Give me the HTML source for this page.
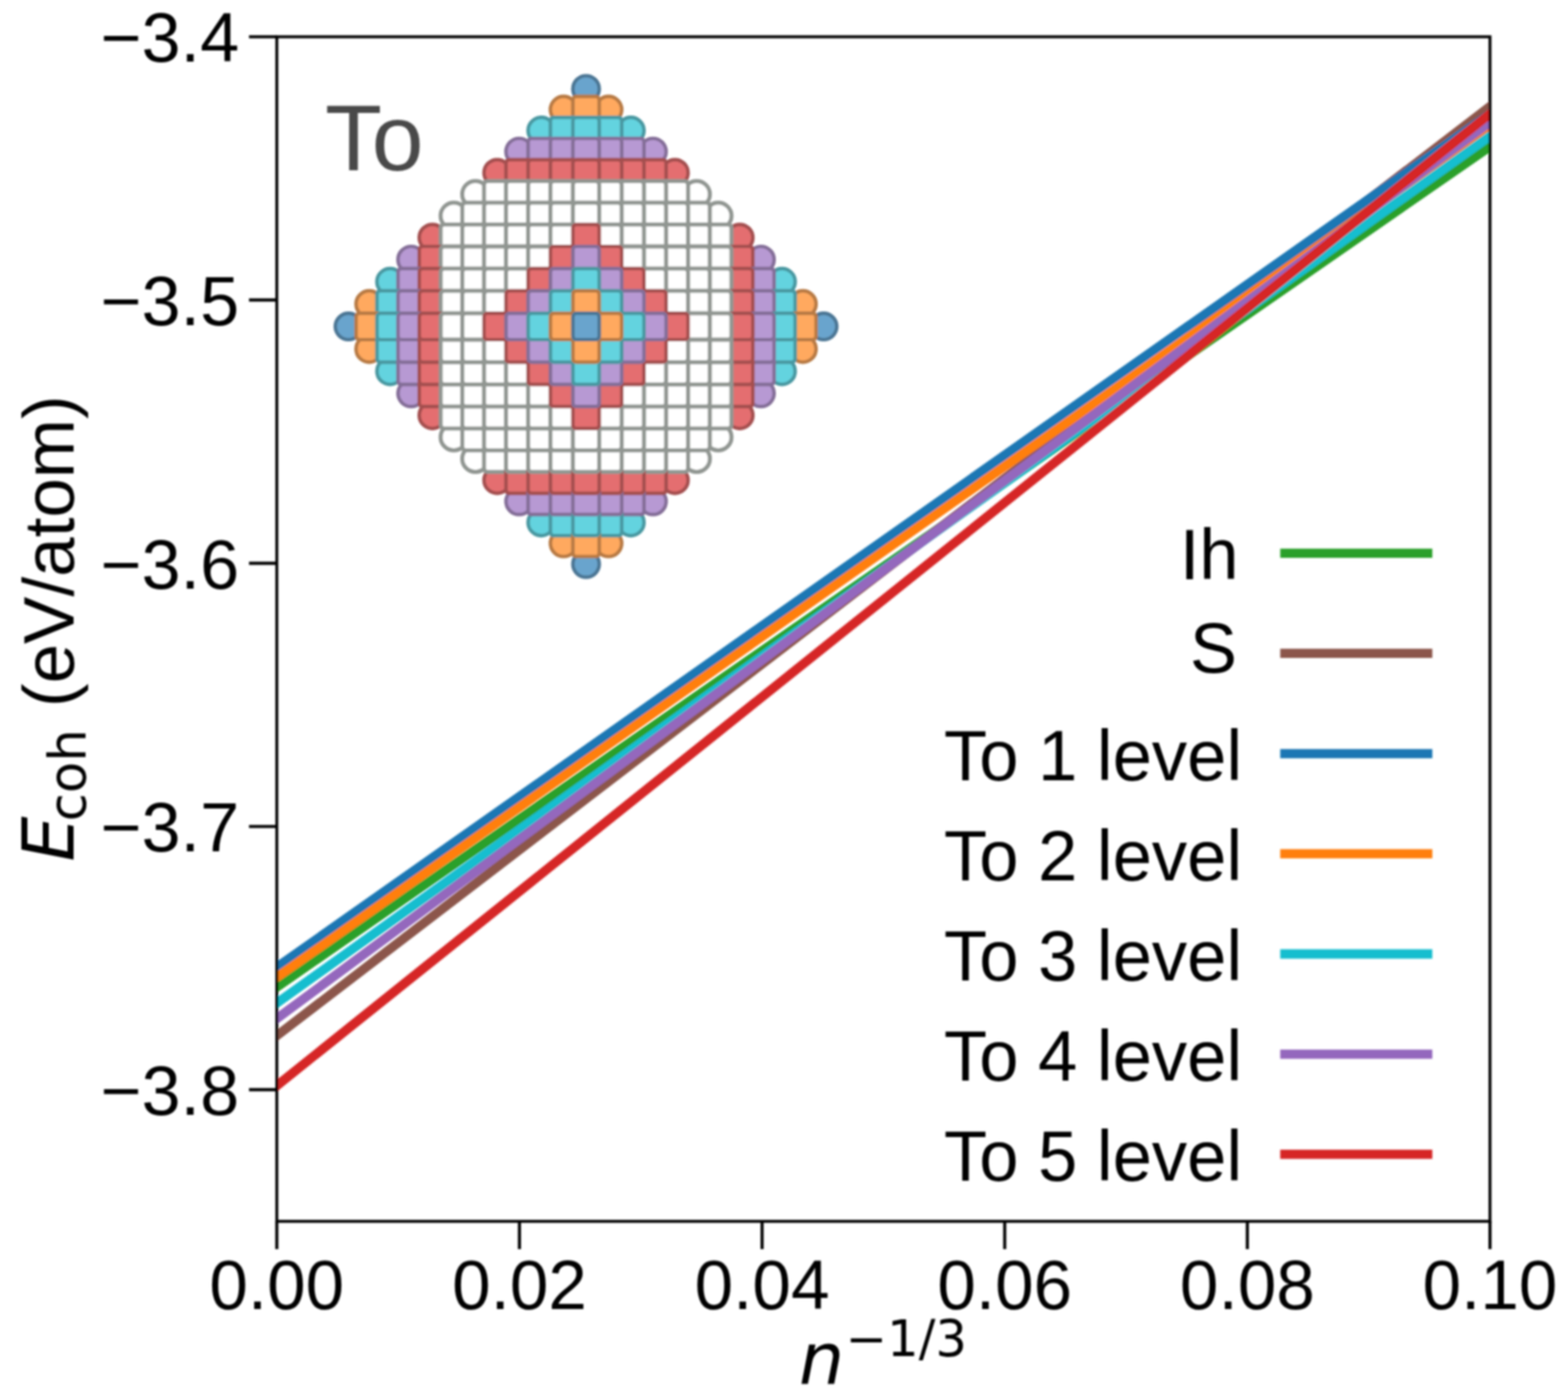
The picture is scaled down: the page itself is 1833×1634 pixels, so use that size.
<!DOCTYPE html>
<html><head><meta charset="utf-8"><title>plot</title>
<style>html,body{margin:0;padding:0;background:#fff;}svg{display:block;}</style>
</head><body>
<svg width="1833" height="1634" viewBox="0 0 1833 1634">
<rect width="100%" height="100%" fill="#ffffff"/>
<defs><clipPath id="ax"><rect x="323.6" y="43.0" width="1418.1999999999998" height="1384.5"/></clipPath><filter id="soft" x="0" y="0" width="100%" height="100%" filterUnits="userSpaceOnUse"><feGaussianBlur stdDeviation="0.9"/></filter></defs>
<g filter="url(#soft)">
<g stroke-width="4.2">
<rect x="669.70" y="88.50" width="30.80" height="30.80" rx="15.4" fill="#69a4cd" stroke="#4c7694"/>
<rect x="643.42" y="112.71" width="30.80" height="30.80" rx="15.4" fill="#ffa95e" stroke="#b87a44"/>
<rect x="695.98" y="112.71" width="30.80" height="30.80" rx="15.4" fill="#ffa95e" stroke="#b87a44"/>
<rect x="617.35" y="137.13" width="30.80" height="30.80" rx="15.4" fill="#64d3df" stroke="#4898a1"/>
<rect x="722.05" y="137.13" width="30.80" height="30.80" rx="15.4" fill="#64d3df" stroke="#4898a1"/>
<rect x="591.49" y="161.76" width="30.80" height="30.80" rx="15.4" fill="#b799d3" stroke="#846e98"/>
<rect x="747.91" y="161.76" width="30.80" height="30.80" rx="15.4" fill="#b799d3" stroke="#846e98"/>
<rect x="565.83" y="186.59" width="30.80" height="30.80" rx="15.4" fill="#e46e6f" stroke="#a44f50"/>
<rect x="773.57" y="186.59" width="30.80" height="30.80" rx="15.4" fill="#e46e6f" stroke="#a44f50"/>
<rect x="540.38" y="211.63" width="30.80" height="30.80" rx="15.4" fill="#ffffff" stroke="#919692" stroke-width="4.8"/>
<rect x="799.02" y="211.63" width="30.80" height="30.80" rx="15.4" fill="#ffffff" stroke="#919692" stroke-width="4.8"/>
<rect x="515.13" y="236.88" width="30.80" height="30.80" rx="15.4" fill="#ffffff" stroke="#919692" stroke-width="4.8"/>
<rect x="824.27" y="236.88" width="30.80" height="30.80" rx="15.4" fill="#ffffff" stroke="#919692" stroke-width="4.8"/>
<rect x="490.09" y="262.33" width="30.80" height="30.80" rx="15.4" fill="#e46e6f" stroke="#a44f50"/>
<rect x="849.31" y="262.33" width="30.80" height="30.80" rx="15.4" fill="#e46e6f" stroke="#a44f50"/>
<rect x="465.26" y="287.99" width="30.80" height="30.80" rx="15.4" fill="#b799d3" stroke="#846e98"/>
<rect x="874.14" y="287.99" width="30.80" height="30.80" rx="15.4" fill="#b799d3" stroke="#846e98"/>
<rect x="440.63" y="313.85" width="30.80" height="30.80" rx="15.4" fill="#64d3df" stroke="#4898a1"/>
<rect x="898.77" y="313.85" width="30.80" height="30.80" rx="15.4" fill="#64d3df" stroke="#4898a1"/>
<rect x="416.21" y="339.92" width="30.80" height="30.80" rx="15.4" fill="#ffa95e" stroke="#b87a44"/>
<rect x="923.19" y="339.92" width="30.80" height="30.80" rx="15.4" fill="#ffa95e" stroke="#b87a44"/>
<rect x="392.00" y="366.20" width="30.80" height="30.80" rx="15.4" fill="#69a4cd" stroke="#4c7694"/>
<rect x="947.40" y="366.20" width="30.80" height="30.80" rx="15.4" fill="#69a4cd" stroke="#4c7694"/>
<rect x="416.21" y="392.48" width="30.80" height="30.80" rx="15.4" fill="#ffa95e" stroke="#b87a44"/>
<rect x="923.19" y="392.48" width="30.80" height="30.80" rx="15.4" fill="#ffa95e" stroke="#b87a44"/>
<rect x="440.63" y="418.55" width="30.80" height="30.80" rx="15.4" fill="#64d3df" stroke="#4898a1"/>
<rect x="898.77" y="418.55" width="30.80" height="30.80" rx="15.4" fill="#64d3df" stroke="#4898a1"/>
<rect x="465.26" y="444.41" width="30.80" height="30.80" rx="15.4" fill="#b799d3" stroke="#846e98"/>
<rect x="874.14" y="444.41" width="30.80" height="30.80" rx="15.4" fill="#b799d3" stroke="#846e98"/>
<rect x="490.09" y="470.07" width="30.80" height="30.80" rx="15.4" fill="#e46e6f" stroke="#a44f50"/>
<rect x="849.31" y="470.07" width="30.80" height="30.80" rx="15.4" fill="#e46e6f" stroke="#a44f50"/>
<rect x="515.13" y="495.52" width="30.80" height="30.80" rx="15.4" fill="#ffffff" stroke="#919692" stroke-width="4.8"/>
<rect x="824.27" y="495.52" width="30.80" height="30.80" rx="15.4" fill="#ffffff" stroke="#919692" stroke-width="4.8"/>
<rect x="540.38" y="520.77" width="30.80" height="30.80" rx="15.4" fill="#ffffff" stroke="#919692" stroke-width="4.8"/>
<rect x="799.02" y="520.77" width="30.80" height="30.80" rx="15.4" fill="#ffffff" stroke="#919692" stroke-width="4.8"/>
<rect x="565.83" y="545.81" width="30.80" height="30.80" rx="15.4" fill="#e46e6f" stroke="#a44f50"/>
<rect x="773.57" y="545.81" width="30.80" height="30.80" rx="15.4" fill="#e46e6f" stroke="#a44f50"/>
<rect x="591.49" y="570.64" width="30.80" height="30.80" rx="15.4" fill="#b799d3" stroke="#846e98"/>
<rect x="747.91" y="570.64" width="30.80" height="30.80" rx="15.4" fill="#b799d3" stroke="#846e98"/>
<rect x="617.35" y="595.27" width="30.80" height="30.80" rx="15.4" fill="#64d3df" stroke="#4898a1"/>
<rect x="722.05" y="595.27" width="30.80" height="30.80" rx="15.4" fill="#64d3df" stroke="#4898a1"/>
<rect x="643.42" y="619.69" width="30.80" height="30.80" rx="15.4" fill="#ffa95e" stroke="#b87a44"/>
<rect x="695.98" y="619.69" width="30.80" height="30.80" rx="15.4" fill="#ffa95e" stroke="#b87a44"/>
<rect x="669.70" y="643.90" width="30.80" height="30.80" rx="15.4" fill="#69a4cd" stroke="#4c7694"/>
<rect x="669.70" y="112.71" width="30.80" height="30.80" rx="4.0" fill="#ffa95e" stroke="#b87a44"/>
<rect x="643.42" y="137.13" width="30.80" height="30.80" rx="4.0" fill="#64d3df" stroke="#4898a1"/>
<rect x="695.98" y="137.13" width="30.80" height="30.80" rx="4.0" fill="#64d3df" stroke="#4898a1"/>
<rect x="617.35" y="161.76" width="30.80" height="30.80" rx="4.0" fill="#b799d3" stroke="#846e98"/>
<rect x="722.05" y="161.76" width="30.80" height="30.80" rx="4.0" fill="#b799d3" stroke="#846e98"/>
<rect x="591.49" y="186.59" width="30.80" height="30.80" rx="4.0" fill="#e46e6f" stroke="#a44f50"/>
<rect x="747.91" y="186.59" width="30.80" height="30.80" rx="4.0" fill="#e46e6f" stroke="#a44f50"/>
<rect x="565.83" y="211.63" width="30.80" height="30.80" rx="4.0" fill="#ffffff" stroke="#919692" stroke-width="4.8"/>
<rect x="773.57" y="211.63" width="30.80" height="30.80" rx="4.0" fill="#ffffff" stroke="#919692" stroke-width="4.8"/>
<rect x="540.38" y="236.88" width="30.80" height="30.80" rx="4.0" fill="#ffffff" stroke="#919692" stroke-width="4.8"/>
<rect x="799.02" y="236.88" width="30.80" height="30.80" rx="4.0" fill="#ffffff" stroke="#919692" stroke-width="4.8"/>
<rect x="515.13" y="262.33" width="30.80" height="30.80" rx="4.0" fill="#ffffff" stroke="#919692" stroke-width="4.8"/>
<rect x="824.27" y="262.33" width="30.80" height="30.80" rx="4.0" fill="#ffffff" stroke="#919692" stroke-width="4.8"/>
<rect x="490.09" y="287.99" width="30.80" height="30.80" rx="4.0" fill="#e46e6f" stroke="#a44f50"/>
<rect x="849.31" y="287.99" width="30.80" height="30.80" rx="4.0" fill="#e46e6f" stroke="#a44f50"/>
<rect x="465.26" y="313.85" width="30.80" height="30.80" rx="4.0" fill="#b799d3" stroke="#846e98"/>
<rect x="874.14" y="313.85" width="30.80" height="30.80" rx="4.0" fill="#b799d3" stroke="#846e98"/>
<rect x="440.63" y="339.92" width="30.80" height="30.80" rx="4.0" fill="#64d3df" stroke="#4898a1"/>
<rect x="898.77" y="339.92" width="30.80" height="30.80" rx="4.0" fill="#64d3df" stroke="#4898a1"/>
<rect x="416.21" y="366.20" width="30.80" height="30.80" rx="4.0" fill="#ffa95e" stroke="#b87a44"/>
<rect x="923.19" y="366.20" width="30.80" height="30.80" rx="4.0" fill="#ffa95e" stroke="#b87a44"/>
<rect x="440.63" y="392.48" width="30.80" height="30.80" rx="4.0" fill="#64d3df" stroke="#4898a1"/>
<rect x="898.77" y="392.48" width="30.80" height="30.80" rx="4.0" fill="#64d3df" stroke="#4898a1"/>
<rect x="465.26" y="418.55" width="30.80" height="30.80" rx="4.0" fill="#b799d3" stroke="#846e98"/>
<rect x="874.14" y="418.55" width="30.80" height="30.80" rx="4.0" fill="#b799d3" stroke="#846e98"/>
<rect x="490.09" y="444.41" width="30.80" height="30.80" rx="4.0" fill="#e46e6f" stroke="#a44f50"/>
<rect x="849.31" y="444.41" width="30.80" height="30.80" rx="4.0" fill="#e46e6f" stroke="#a44f50"/>
<rect x="515.13" y="470.07" width="30.80" height="30.80" rx="4.0" fill="#ffffff" stroke="#919692" stroke-width="4.8"/>
<rect x="824.27" y="470.07" width="30.80" height="30.80" rx="4.0" fill="#ffffff" stroke="#919692" stroke-width="4.8"/>
<rect x="540.38" y="495.52" width="30.80" height="30.80" rx="4.0" fill="#ffffff" stroke="#919692" stroke-width="4.8"/>
<rect x="799.02" y="495.52" width="30.80" height="30.80" rx="4.0" fill="#ffffff" stroke="#919692" stroke-width="4.8"/>
<rect x="565.83" y="520.77" width="30.80" height="30.80" rx="4.0" fill="#ffffff" stroke="#919692" stroke-width="4.8"/>
<rect x="773.57" y="520.77" width="30.80" height="30.80" rx="4.0" fill="#ffffff" stroke="#919692" stroke-width="4.8"/>
<rect x="591.49" y="545.81" width="30.80" height="30.80" rx="4.0" fill="#e46e6f" stroke="#a44f50"/>
<rect x="747.91" y="545.81" width="30.80" height="30.80" rx="4.0" fill="#e46e6f" stroke="#a44f50"/>
<rect x="617.35" y="570.64" width="30.80" height="30.80" rx="4.0" fill="#b799d3" stroke="#846e98"/>
<rect x="722.05" y="570.64" width="30.80" height="30.80" rx="4.0" fill="#b799d3" stroke="#846e98"/>
<rect x="643.42" y="595.27" width="30.80" height="30.80" rx="4.0" fill="#64d3df" stroke="#4898a1"/>
<rect x="695.98" y="595.27" width="30.80" height="30.80" rx="4.0" fill="#64d3df" stroke="#4898a1"/>
<rect x="669.70" y="619.69" width="30.80" height="30.80" rx="4.0" fill="#ffa95e" stroke="#b87a44"/>
<rect x="669.70" y="137.13" width="30.80" height="30.80" rx="4.0" fill="#64d3df" stroke="#4898a1"/>
<rect x="643.42" y="161.76" width="30.80" height="30.80" rx="4.0" fill="#b799d3" stroke="#846e98"/>
<rect x="695.98" y="161.76" width="30.80" height="30.80" rx="4.0" fill="#b799d3" stroke="#846e98"/>
<rect x="617.35" y="186.59" width="30.80" height="30.80" rx="4.0" fill="#e46e6f" stroke="#a44f50"/>
<rect x="722.05" y="186.59" width="30.80" height="30.80" rx="4.0" fill="#e46e6f" stroke="#a44f50"/>
<rect x="591.49" y="211.63" width="30.80" height="30.80" rx="4.0" fill="#ffffff" stroke="#919692" stroke-width="4.8"/>
<rect x="747.91" y="211.63" width="30.80" height="30.80" rx="4.0" fill="#ffffff" stroke="#919692" stroke-width="4.8"/>
<rect x="565.83" y="236.88" width="30.80" height="30.80" rx="4.0" fill="#ffffff" stroke="#919692" stroke-width="4.8"/>
<rect x="773.57" y="236.88" width="30.80" height="30.80" rx="4.0" fill="#ffffff" stroke="#919692" stroke-width="4.8"/>
<rect x="540.38" y="262.33" width="30.80" height="30.80" rx="4.0" fill="#ffffff" stroke="#919692" stroke-width="4.8"/>
<rect x="799.02" y="262.33" width="30.80" height="30.80" rx="4.0" fill="#ffffff" stroke="#919692" stroke-width="4.8"/>
<rect x="515.13" y="287.99" width="30.80" height="30.80" rx="4.0" fill="#ffffff" stroke="#919692" stroke-width="4.8"/>
<rect x="824.27" y="287.99" width="30.80" height="30.80" rx="4.0" fill="#ffffff" stroke="#919692" stroke-width="4.8"/>
<rect x="490.09" y="313.85" width="30.80" height="30.80" rx="4.0" fill="#e46e6f" stroke="#a44f50"/>
<rect x="849.31" y="313.85" width="30.80" height="30.80" rx="4.0" fill="#e46e6f" stroke="#a44f50"/>
<rect x="465.26" y="339.92" width="30.80" height="30.80" rx="4.0" fill="#b799d3" stroke="#846e98"/>
<rect x="874.14" y="339.92" width="30.80" height="30.80" rx="4.0" fill="#b799d3" stroke="#846e98"/>
<rect x="440.63" y="366.20" width="30.80" height="30.80" rx="4.0" fill="#64d3df" stroke="#4898a1"/>
<rect x="898.77" y="366.20" width="30.80" height="30.80" rx="4.0" fill="#64d3df" stroke="#4898a1"/>
<rect x="465.26" y="392.48" width="30.80" height="30.80" rx="4.0" fill="#b799d3" stroke="#846e98"/>
<rect x="874.14" y="392.48" width="30.80" height="30.80" rx="4.0" fill="#b799d3" stroke="#846e98"/>
<rect x="490.09" y="418.55" width="30.80" height="30.80" rx="4.0" fill="#e46e6f" stroke="#a44f50"/>
<rect x="849.31" y="418.55" width="30.80" height="30.80" rx="4.0" fill="#e46e6f" stroke="#a44f50"/>
<rect x="515.13" y="444.41" width="30.80" height="30.80" rx="4.0" fill="#ffffff" stroke="#919692" stroke-width="4.8"/>
<rect x="824.27" y="444.41" width="30.80" height="30.80" rx="4.0" fill="#ffffff" stroke="#919692" stroke-width="4.8"/>
<rect x="540.38" y="470.07" width="30.80" height="30.80" rx="4.0" fill="#ffffff" stroke="#919692" stroke-width="4.8"/>
<rect x="799.02" y="470.07" width="30.80" height="30.80" rx="4.0" fill="#ffffff" stroke="#919692" stroke-width="4.8"/>
<rect x="565.83" y="495.52" width="30.80" height="30.80" rx="4.0" fill="#ffffff" stroke="#919692" stroke-width="4.8"/>
<rect x="773.57" y="495.52" width="30.80" height="30.80" rx="4.0" fill="#ffffff" stroke="#919692" stroke-width="4.8"/>
<rect x="591.49" y="520.77" width="30.80" height="30.80" rx="4.0" fill="#ffffff" stroke="#919692" stroke-width="4.8"/>
<rect x="747.91" y="520.77" width="30.80" height="30.80" rx="4.0" fill="#ffffff" stroke="#919692" stroke-width="4.8"/>
<rect x="617.35" y="545.81" width="30.80" height="30.80" rx="4.0" fill="#e46e6f" stroke="#a44f50"/>
<rect x="722.05" y="545.81" width="30.80" height="30.80" rx="4.0" fill="#e46e6f" stroke="#a44f50"/>
<rect x="643.42" y="570.64" width="30.80" height="30.80" rx="4.0" fill="#b799d3" stroke="#846e98"/>
<rect x="695.98" y="570.64" width="30.80" height="30.80" rx="4.0" fill="#b799d3" stroke="#846e98"/>
<rect x="669.70" y="595.27" width="30.80" height="30.80" rx="4.0" fill="#64d3df" stroke="#4898a1"/>
<rect x="669.70" y="161.76" width="30.80" height="30.80" rx="4.0" fill="#b799d3" stroke="#846e98"/>
<rect x="643.42" y="186.59" width="30.80" height="30.80" rx="4.0" fill="#e46e6f" stroke="#a44f50"/>
<rect x="695.98" y="186.59" width="30.80" height="30.80" rx="4.0" fill="#e46e6f" stroke="#a44f50"/>
<rect x="617.35" y="211.63" width="30.80" height="30.80" rx="4.0" fill="#ffffff" stroke="#919692" stroke-width="4.8"/>
<rect x="722.05" y="211.63" width="30.80" height="30.80" rx="4.0" fill="#ffffff" stroke="#919692" stroke-width="4.8"/>
<rect x="591.49" y="236.88" width="30.80" height="30.80" rx="4.0" fill="#ffffff" stroke="#919692" stroke-width="4.8"/>
<rect x="747.91" y="236.88" width="30.80" height="30.80" rx="4.0" fill="#ffffff" stroke="#919692" stroke-width="4.8"/>
<rect x="565.83" y="262.33" width="30.80" height="30.80" rx="4.0" fill="#ffffff" stroke="#919692" stroke-width="4.8"/>
<rect x="773.57" y="262.33" width="30.80" height="30.80" rx="4.0" fill="#ffffff" stroke="#919692" stroke-width="4.8"/>
<rect x="540.38" y="287.99" width="30.80" height="30.80" rx="4.0" fill="#ffffff" stroke="#919692" stroke-width="4.8"/>
<rect x="799.02" y="287.99" width="30.80" height="30.80" rx="4.0" fill="#ffffff" stroke="#919692" stroke-width="4.8"/>
<rect x="515.13" y="313.85" width="30.80" height="30.80" rx="4.0" fill="#ffffff" stroke="#919692" stroke-width="4.8"/>
<rect x="824.27" y="313.85" width="30.80" height="30.80" rx="4.0" fill="#ffffff" stroke="#919692" stroke-width="4.8"/>
<rect x="490.09" y="339.92" width="30.80" height="30.80" rx="4.0" fill="#e46e6f" stroke="#a44f50"/>
<rect x="849.31" y="339.92" width="30.80" height="30.80" rx="4.0" fill="#e46e6f" stroke="#a44f50"/>
<rect x="465.26" y="366.20" width="30.80" height="30.80" rx="4.0" fill="#b799d3" stroke="#846e98"/>
<rect x="874.14" y="366.20" width="30.80" height="30.80" rx="4.0" fill="#b799d3" stroke="#846e98"/>
<rect x="490.09" y="392.48" width="30.80" height="30.80" rx="4.0" fill="#e46e6f" stroke="#a44f50"/>
<rect x="849.31" y="392.48" width="30.80" height="30.80" rx="4.0" fill="#e46e6f" stroke="#a44f50"/>
<rect x="515.13" y="418.55" width="30.80" height="30.80" rx="4.0" fill="#ffffff" stroke="#919692" stroke-width="4.8"/>
<rect x="824.27" y="418.55" width="30.80" height="30.80" rx="4.0" fill="#ffffff" stroke="#919692" stroke-width="4.8"/>
<rect x="540.38" y="444.41" width="30.80" height="30.80" rx="4.0" fill="#ffffff" stroke="#919692" stroke-width="4.8"/>
<rect x="799.02" y="444.41" width="30.80" height="30.80" rx="4.0" fill="#ffffff" stroke="#919692" stroke-width="4.8"/>
<rect x="565.83" y="470.07" width="30.80" height="30.80" rx="4.0" fill="#ffffff" stroke="#919692" stroke-width="4.8"/>
<rect x="773.57" y="470.07" width="30.80" height="30.80" rx="4.0" fill="#ffffff" stroke="#919692" stroke-width="4.8"/>
<rect x="591.49" y="495.52" width="30.80" height="30.80" rx="4.0" fill="#ffffff" stroke="#919692" stroke-width="4.8"/>
<rect x="747.91" y="495.52" width="30.80" height="30.80" rx="4.0" fill="#ffffff" stroke="#919692" stroke-width="4.8"/>
<rect x="617.35" y="520.77" width="30.80" height="30.80" rx="4.0" fill="#ffffff" stroke="#919692" stroke-width="4.8"/>
<rect x="722.05" y="520.77" width="30.80" height="30.80" rx="4.0" fill="#ffffff" stroke="#919692" stroke-width="4.8"/>
<rect x="643.42" y="545.81" width="30.80" height="30.80" rx="4.0" fill="#e46e6f" stroke="#a44f50"/>
<rect x="695.98" y="545.81" width="30.80" height="30.80" rx="4.0" fill="#e46e6f" stroke="#a44f50"/>
<rect x="669.70" y="570.64" width="30.80" height="30.80" rx="4.0" fill="#b799d3" stroke="#846e98"/>
<rect x="669.70" y="186.59" width="30.80" height="30.80" rx="4.0" fill="#e46e6f" stroke="#a44f50"/>
<rect x="643.42" y="211.63" width="30.80" height="30.80" rx="4.0" fill="#ffffff" stroke="#919692" stroke-width="4.8"/>
<rect x="695.98" y="211.63" width="30.80" height="30.80" rx="4.0" fill="#ffffff" stroke="#919692" stroke-width="4.8"/>
<rect x="617.35" y="236.88" width="30.80" height="30.80" rx="4.0" fill="#ffffff" stroke="#919692" stroke-width="4.8"/>
<rect x="722.05" y="236.88" width="30.80" height="30.80" rx="4.0" fill="#ffffff" stroke="#919692" stroke-width="4.8"/>
<rect x="591.49" y="262.33" width="30.80" height="30.80" rx="4.0" fill="#ffffff" stroke="#919692" stroke-width="4.8"/>
<rect x="747.91" y="262.33" width="30.80" height="30.80" rx="4.0" fill="#ffffff" stroke="#919692" stroke-width="4.8"/>
<rect x="565.83" y="287.99" width="30.80" height="30.80" rx="4.0" fill="#ffffff" stroke="#919692" stroke-width="4.8"/>
<rect x="773.57" y="287.99" width="30.80" height="30.80" rx="4.0" fill="#ffffff" stroke="#919692" stroke-width="4.8"/>
<rect x="540.38" y="313.85" width="30.80" height="30.80" rx="4.0" fill="#ffffff" stroke="#919692" stroke-width="4.8"/>
<rect x="799.02" y="313.85" width="30.80" height="30.80" rx="4.0" fill="#ffffff" stroke="#919692" stroke-width="4.8"/>
<rect x="515.13" y="339.92" width="30.80" height="30.80" rx="4.0" fill="#ffffff" stroke="#919692" stroke-width="4.8"/>
<rect x="824.27" y="339.92" width="30.80" height="30.80" rx="4.0" fill="#ffffff" stroke="#919692" stroke-width="4.8"/>
<rect x="490.09" y="366.20" width="30.80" height="30.80" rx="4.0" fill="#e46e6f" stroke="#a44f50"/>
<rect x="849.31" y="366.20" width="30.80" height="30.80" rx="4.0" fill="#e46e6f" stroke="#a44f50"/>
<rect x="515.13" y="392.48" width="30.80" height="30.80" rx="4.0" fill="#ffffff" stroke="#919692" stroke-width="4.8"/>
<rect x="824.27" y="392.48" width="30.80" height="30.80" rx="4.0" fill="#ffffff" stroke="#919692" stroke-width="4.8"/>
<rect x="540.38" y="418.55" width="30.80" height="30.80" rx="4.0" fill="#ffffff" stroke="#919692" stroke-width="4.8"/>
<rect x="799.02" y="418.55" width="30.80" height="30.80" rx="4.0" fill="#ffffff" stroke="#919692" stroke-width="4.8"/>
<rect x="565.83" y="444.41" width="30.80" height="30.80" rx="4.0" fill="#ffffff" stroke="#919692" stroke-width="4.8"/>
<rect x="773.57" y="444.41" width="30.80" height="30.80" rx="4.0" fill="#ffffff" stroke="#919692" stroke-width="4.8"/>
<rect x="591.49" y="470.07" width="30.80" height="30.80" rx="4.0" fill="#ffffff" stroke="#919692" stroke-width="4.8"/>
<rect x="747.91" y="470.07" width="30.80" height="30.80" rx="4.0" fill="#ffffff" stroke="#919692" stroke-width="4.8"/>
<rect x="617.35" y="495.52" width="30.80" height="30.80" rx="4.0" fill="#ffffff" stroke="#919692" stroke-width="4.8"/>
<rect x="722.05" y="495.52" width="30.80" height="30.80" rx="4.0" fill="#ffffff" stroke="#919692" stroke-width="4.8"/>
<rect x="643.42" y="520.77" width="30.80" height="30.80" rx="4.0" fill="#ffffff" stroke="#919692" stroke-width="4.8"/>
<rect x="695.98" y="520.77" width="30.80" height="30.80" rx="4.0" fill="#ffffff" stroke="#919692" stroke-width="4.8"/>
<rect x="669.70" y="545.81" width="30.80" height="30.80" rx="4.0" fill="#e46e6f" stroke="#a44f50"/>
<rect x="669.70" y="211.63" width="30.80" height="30.80" rx="4.0" fill="#ffffff" stroke="#919692" stroke-width="4.8"/>
<rect x="643.42" y="236.88" width="30.80" height="30.80" rx="4.0" fill="#ffffff" stroke="#919692" stroke-width="4.8"/>
<rect x="695.98" y="236.88" width="30.80" height="30.80" rx="4.0" fill="#ffffff" stroke="#919692" stroke-width="4.8"/>
<rect x="617.35" y="262.33" width="30.80" height="30.80" rx="4.0" fill="#ffffff" stroke="#919692" stroke-width="4.8"/>
<rect x="722.05" y="262.33" width="30.80" height="30.80" rx="4.0" fill="#ffffff" stroke="#919692" stroke-width="4.8"/>
<rect x="591.49" y="287.99" width="30.80" height="30.80" rx="4.0" fill="#ffffff" stroke="#919692" stroke-width="4.8"/>
<rect x="747.91" y="287.99" width="30.80" height="30.80" rx="4.0" fill="#ffffff" stroke="#919692" stroke-width="4.8"/>
<rect x="565.83" y="313.85" width="30.80" height="30.80" rx="4.0" fill="#ffffff" stroke="#919692" stroke-width="4.8"/>
<rect x="773.57" y="313.85" width="30.80" height="30.80" rx="4.0" fill="#ffffff" stroke="#919692" stroke-width="4.8"/>
<rect x="540.38" y="339.92" width="30.80" height="30.80" rx="4.0" fill="#ffffff" stroke="#919692" stroke-width="4.8"/>
<rect x="799.02" y="339.92" width="30.80" height="30.80" rx="4.0" fill="#ffffff" stroke="#919692" stroke-width="4.8"/>
<rect x="515.13" y="366.20" width="30.80" height="30.80" rx="4.0" fill="#ffffff" stroke="#919692" stroke-width="4.8"/>
<rect x="824.27" y="366.20" width="30.80" height="30.80" rx="4.0" fill="#ffffff" stroke="#919692" stroke-width="4.8"/>
<rect x="540.38" y="392.48" width="30.80" height="30.80" rx="4.0" fill="#ffffff" stroke="#919692" stroke-width="4.8"/>
<rect x="799.02" y="392.48" width="30.80" height="30.80" rx="4.0" fill="#ffffff" stroke="#919692" stroke-width="4.8"/>
<rect x="565.83" y="418.55" width="30.80" height="30.80" rx="4.0" fill="#ffffff" stroke="#919692" stroke-width="4.8"/>
<rect x="773.57" y="418.55" width="30.80" height="30.80" rx="4.0" fill="#ffffff" stroke="#919692" stroke-width="4.8"/>
<rect x="591.49" y="444.41" width="30.80" height="30.80" rx="4.0" fill="#ffffff" stroke="#919692" stroke-width="4.8"/>
<rect x="747.91" y="444.41" width="30.80" height="30.80" rx="4.0" fill="#ffffff" stroke="#919692" stroke-width="4.8"/>
<rect x="617.35" y="470.07" width="30.80" height="30.80" rx="4.0" fill="#ffffff" stroke="#919692" stroke-width="4.8"/>
<rect x="722.05" y="470.07" width="30.80" height="30.80" rx="4.0" fill="#ffffff" stroke="#919692" stroke-width="4.8"/>
<rect x="643.42" y="495.52" width="30.80" height="30.80" rx="4.0" fill="#ffffff" stroke="#919692" stroke-width="4.8"/>
<rect x="695.98" y="495.52" width="30.80" height="30.80" rx="4.0" fill="#ffffff" stroke="#919692" stroke-width="4.8"/>
<rect x="669.70" y="520.77" width="30.80" height="30.80" rx="4.0" fill="#ffffff" stroke="#919692" stroke-width="4.8"/>
<rect x="669.70" y="236.88" width="30.80" height="30.80" rx="4.0" fill="#ffffff" stroke="#919692" stroke-width="4.8"/>
<rect x="643.42" y="262.33" width="30.80" height="30.80" rx="4.0" fill="#ffffff" stroke="#919692" stroke-width="4.8"/>
<rect x="695.98" y="262.33" width="30.80" height="30.80" rx="4.0" fill="#ffffff" stroke="#919692" stroke-width="4.8"/>
<rect x="617.35" y="287.99" width="30.80" height="30.80" rx="4.0" fill="#ffffff" stroke="#919692" stroke-width="4.8"/>
<rect x="722.05" y="287.99" width="30.80" height="30.80" rx="4.0" fill="#ffffff" stroke="#919692" stroke-width="4.8"/>
<rect x="591.49" y="313.85" width="30.80" height="30.80" rx="4.0" fill="#ffffff" stroke="#919692" stroke-width="4.8"/>
<rect x="747.91" y="313.85" width="30.80" height="30.80" rx="4.0" fill="#ffffff" stroke="#919692" stroke-width="4.8"/>
<rect x="565.83" y="339.92" width="30.80" height="30.80" rx="4.0" fill="#ffffff" stroke="#919692" stroke-width="4.8"/>
<rect x="773.57" y="339.92" width="30.80" height="30.80" rx="4.0" fill="#ffffff" stroke="#919692" stroke-width="4.8"/>
<rect x="540.38" y="366.20" width="30.80" height="30.80" rx="4.0" fill="#ffffff" stroke="#919692" stroke-width="4.8"/>
<rect x="799.02" y="366.20" width="30.80" height="30.80" rx="4.0" fill="#ffffff" stroke="#919692" stroke-width="4.8"/>
<rect x="565.83" y="392.48" width="30.80" height="30.80" rx="4.0" fill="#ffffff" stroke="#919692" stroke-width="4.8"/>
<rect x="773.57" y="392.48" width="30.80" height="30.80" rx="4.0" fill="#ffffff" stroke="#919692" stroke-width="4.8"/>
<rect x="591.49" y="418.55" width="30.80" height="30.80" rx="4.0" fill="#ffffff" stroke="#919692" stroke-width="4.8"/>
<rect x="747.91" y="418.55" width="30.80" height="30.80" rx="4.0" fill="#ffffff" stroke="#919692" stroke-width="4.8"/>
<rect x="617.35" y="444.41" width="30.80" height="30.80" rx="4.0" fill="#ffffff" stroke="#919692" stroke-width="4.8"/>
<rect x="722.05" y="444.41" width="30.80" height="30.80" rx="4.0" fill="#ffffff" stroke="#919692" stroke-width="4.8"/>
<rect x="643.42" y="470.07" width="30.80" height="30.80" rx="4.0" fill="#ffffff" stroke="#919692" stroke-width="4.8"/>
<rect x="695.98" y="470.07" width="30.80" height="30.80" rx="4.0" fill="#ffffff" stroke="#919692" stroke-width="4.8"/>
<rect x="669.70" y="495.52" width="30.80" height="30.80" rx="4.0" fill="#ffffff" stroke="#919692" stroke-width="4.8"/>
<rect x="669.70" y="262.33" width="30.80" height="30.80" rx="4.0" fill="#e46e6f" stroke="#a44f50"/>
<rect x="643.42" y="287.99" width="30.80" height="30.80" rx="4.0" fill="#e46e6f" stroke="#a44f50"/>
<rect x="695.98" y="287.99" width="30.80" height="30.80" rx="4.0" fill="#e46e6f" stroke="#a44f50"/>
<rect x="617.35" y="313.85" width="30.80" height="30.80" rx="4.0" fill="#e46e6f" stroke="#a44f50"/>
<rect x="722.05" y="313.85" width="30.80" height="30.80" rx="4.0" fill="#e46e6f" stroke="#a44f50"/>
<rect x="591.49" y="339.92" width="30.80" height="30.80" rx="4.0" fill="#e46e6f" stroke="#a44f50"/>
<rect x="747.91" y="339.92" width="30.80" height="30.80" rx="4.0" fill="#e46e6f" stroke="#a44f50"/>
<rect x="565.83" y="366.20" width="30.80" height="30.80" rx="4.0" fill="#e46e6f" stroke="#a44f50"/>
<rect x="773.57" y="366.20" width="30.80" height="30.80" rx="4.0" fill="#e46e6f" stroke="#a44f50"/>
<rect x="591.49" y="392.48" width="30.80" height="30.80" rx="4.0" fill="#e46e6f" stroke="#a44f50"/>
<rect x="747.91" y="392.48" width="30.80" height="30.80" rx="4.0" fill="#e46e6f" stroke="#a44f50"/>
<rect x="617.35" y="418.55" width="30.80" height="30.80" rx="4.0" fill="#e46e6f" stroke="#a44f50"/>
<rect x="722.05" y="418.55" width="30.80" height="30.80" rx="4.0" fill="#e46e6f" stroke="#a44f50"/>
<rect x="643.42" y="444.41" width="30.80" height="30.80" rx="4.0" fill="#e46e6f" stroke="#a44f50"/>
<rect x="695.98" y="444.41" width="30.80" height="30.80" rx="4.0" fill="#e46e6f" stroke="#a44f50"/>
<rect x="669.70" y="470.07" width="30.80" height="30.80" rx="4.0" fill="#e46e6f" stroke="#a44f50"/>
<rect x="669.70" y="287.99" width="30.80" height="30.80" rx="4.0" fill="#b799d3" stroke="#846e98"/>
<rect x="643.42" y="313.85" width="30.80" height="30.80" rx="4.0" fill="#b799d3" stroke="#846e98"/>
<rect x="695.98" y="313.85" width="30.80" height="30.80" rx="4.0" fill="#b799d3" stroke="#846e98"/>
<rect x="617.35" y="339.92" width="30.80" height="30.80" rx="4.0" fill="#b799d3" stroke="#846e98"/>
<rect x="722.05" y="339.92" width="30.80" height="30.80" rx="4.0" fill="#b799d3" stroke="#846e98"/>
<rect x="591.49" y="366.20" width="30.80" height="30.80" rx="4.0" fill="#b799d3" stroke="#846e98"/>
<rect x="747.91" y="366.20" width="30.80" height="30.80" rx="4.0" fill="#b799d3" stroke="#846e98"/>
<rect x="617.35" y="392.48" width="30.80" height="30.80" rx="4.0" fill="#b799d3" stroke="#846e98"/>
<rect x="722.05" y="392.48" width="30.80" height="30.80" rx="4.0" fill="#b799d3" stroke="#846e98"/>
<rect x="643.42" y="418.55" width="30.80" height="30.80" rx="4.0" fill="#b799d3" stroke="#846e98"/>
<rect x="695.98" y="418.55" width="30.80" height="30.80" rx="4.0" fill="#b799d3" stroke="#846e98"/>
<rect x="669.70" y="444.41" width="30.80" height="30.80" rx="4.0" fill="#b799d3" stroke="#846e98"/>
<rect x="669.70" y="313.85" width="30.80" height="30.80" rx="4.0" fill="#64d3df" stroke="#4898a1"/>
<rect x="643.42" y="339.92" width="30.80" height="30.80" rx="4.0" fill="#64d3df" stroke="#4898a1"/>
<rect x="695.98" y="339.92" width="30.80" height="30.80" rx="4.0" fill="#64d3df" stroke="#4898a1"/>
<rect x="617.35" y="366.20" width="30.80" height="30.80" rx="4.0" fill="#64d3df" stroke="#4898a1"/>
<rect x="722.05" y="366.20" width="30.80" height="30.80" rx="4.0" fill="#64d3df" stroke="#4898a1"/>
<rect x="643.42" y="392.48" width="30.80" height="30.80" rx="4.0" fill="#64d3df" stroke="#4898a1"/>
<rect x="695.98" y="392.48" width="30.80" height="30.80" rx="4.0" fill="#64d3df" stroke="#4898a1"/>
<rect x="669.70" y="418.55" width="30.80" height="30.80" rx="4.0" fill="#64d3df" stroke="#4898a1"/>
<rect x="669.70" y="339.92" width="30.80" height="30.80" rx="4.0" fill="#ffa95e" stroke="#b87a44"/>
<rect x="643.42" y="366.20" width="30.80" height="30.80" rx="4.0" fill="#ffa95e" stroke="#b87a44"/>
<rect x="695.98" y="366.20" width="30.80" height="30.80" rx="4.0" fill="#ffa95e" stroke="#b87a44"/>
<rect x="669.70" y="392.48" width="30.80" height="30.80" rx="4.0" fill="#ffa95e" stroke="#b87a44"/>
<rect x="669.70" y="366.20" width="30.80" height="30.80" rx="4.0" fill="#69a4cd" stroke="#4c7694"/>
</g>
<g clip-path="url(#ax)" stroke-linecap="square" fill="none">
<line x1="323.6" y1="1153.7" x2="1741.8" y2="171.2" stroke="#2ca02c" stroke-width="10.8"/>
<line x1="323.6" y1="1210.5" x2="1741.8" y2="124.5" stroke="#8c564b" stroke-width="10.8"/>
<line x1="323.6" y1="1130.5" x2="1741.8" y2="133.0" stroke="#1f77b4" stroke-width="10.8"/>
<line x1="323.6" y1="1142.3" x2="1741.8" y2="146.8" stroke="#ff7f0e" stroke-width="10.8"/>
<line x1="323.6" y1="1172.4" x2="1741.8" y2="159.0" stroke="#17becf" stroke-width="10.8"/>
<line x1="323.6" y1="1190.6" x2="1741.8" y2="142.6" stroke="#9467bd" stroke-width="10.8"/>
<line x1="323.6" y1="1269.0" x2="1741.8" y2="133.0" stroke="#d62728" stroke-width="10.8"/>
</g>
<g stroke="#000" fill="none">
<rect x="323.6" y="43.0" width="1418.1999999999998" height="1384.5" stroke-width="3.4"/>
<line x1="323.60" y1="1427.5" x2="323.60" y2="1460.0" stroke-width="3.6"/>
<line x1="607.24" y1="1427.5" x2="607.24" y2="1460.0" stroke-width="3.6"/>
<line x1="890.88" y1="1427.5" x2="890.88" y2="1460.0" stroke-width="3.6"/>
<line x1="1174.52" y1="1427.5" x2="1174.52" y2="1460.0" stroke-width="3.6"/>
<line x1="1458.16" y1="1427.5" x2="1458.16" y2="1460.0" stroke-width="3.6"/>
<line x1="1741.80" y1="1427.5" x2="1741.80" y2="1460.0" stroke-width="3.6"/>
<line x1="291.1" y1="43.00" x2="323.6" y2="43.00" stroke-width="3.6"/>
<line x1="291.1" y1="350.67" x2="323.6" y2="350.67" stroke-width="3.6"/>
<line x1="291.1" y1="658.33" x2="323.6" y2="658.33" stroke-width="3.6"/>
<line x1="291.1" y1="966.00" x2="323.6" y2="966.00" stroke-width="3.6"/>
<line x1="291.1" y1="1273.67" x2="323.6" y2="1273.67" stroke-width="3.6"/>
</g>
<g font-family="'Liberation Sans', Arial, Helvetica, sans-serif" font-size="81" fill="#000">
<text x="323.60" y="1529.5" text-anchor="middle">0.00</text>
<text x="607.24" y="1529.5" text-anchor="middle">0.02</text>
<text x="890.88" y="1529.5" text-anchor="middle">0.04</text>
<text x="1174.52" y="1529.5" text-anchor="middle">0.06</text>
<text x="1458.16" y="1529.5" text-anchor="middle">0.08</text>
<text x="1741.80" y="1529.5" text-anchor="middle">0.10</text>
<text x="279.5" y="72.30" text-anchor="end" font-size="82">−3.4</text>
<text x="279.5" y="379.97" text-anchor="end" font-size="82">−3.5</text>
<text x="279.5" y="687.63" text-anchor="end" font-size="82">−3.6</text>
<text x="279.5" y="995.30" text-anchor="end" font-size="82">−3.7</text>
<text x="279.5" y="1302.97" text-anchor="end" font-size="82">−3.8</text>
</g>
<g font-family="'Liberation Sans', Arial, Helvetica, sans-serif" font-size="82.5" fill="#000">
<line x1="1502" y1="646.6" x2="1669" y2="646.6" stroke="#2ca02c" stroke-width="10.8" stroke-linecap="square"/>
<text x="1448.0" y="676.5" text-anchor="end">Ih</text>
<line x1="1502" y1="763.7" x2="1669" y2="763.7" stroke="#8c564b" stroke-width="10.8" stroke-linecap="square"/>
<text x="1446.0" y="785.6" text-anchor="end">S</text>
<line x1="1502" y1="880.8" x2="1669" y2="880.8" stroke="#1f77b4" stroke-width="10.8" stroke-linecap="square"/>
<text x="1452.0" y="911.8" text-anchor="end">To 1 level</text>
<line x1="1502" y1="997.9" x2="1669" y2="997.9" stroke="#ff7f0e" stroke-width="10.8" stroke-linecap="square"/>
<text x="1452.0" y="1028.9" text-anchor="end">To 2 level</text>
<line x1="1502" y1="1115.0" x2="1669" y2="1115.0" stroke="#17becf" stroke-width="10.8" stroke-linecap="square"/>
<text x="1452.0" y="1146.0" text-anchor="end">To 3 level</text>
<line x1="1502" y1="1232.1" x2="1669" y2="1232.1" stroke="#9467bd" stroke-width="10.8" stroke-linecap="square"/>
<text x="1452.0" y="1263.1" text-anchor="end">To 4 level</text>
<line x1="1502" y1="1349.2" x2="1669" y2="1349.2" stroke="#d62728" stroke-width="10.8" stroke-linecap="square"/>
<text x="1452.0" y="1380.2" text-anchor="end">To 5 level</text>
</g>
<text x="380" y="199" font-family="'Liberation Sans', Arial, Helvetica, sans-serif" font-size="109" fill="#4a4a4a">To</text>
<text x="934" y="1616.5" font-family="'DejaVu Sans', sans-serif" font-size="83.5" font-style="italic">n</text>
<text x="988.5" y="1585" font-family="'DejaVu Sans', sans-serif" font-size="58">−1/3</text>
<g transform="translate(86,1007) rotate(-90)">
<text x="0" y="0" font-family="'DejaVu Sans', sans-serif" font-size="83.5" font-style="italic">E</text>
<text x="47" y="13.5" font-family="'DejaVu Sans', sans-serif" font-size="60">coh</text>
<text x="180.5" y="0" font-family="'Liberation Sans', Arial, Helvetica, sans-serif" font-size="83">(eV/atom)</text>
</g>
</g>
</svg>
</body></html>
